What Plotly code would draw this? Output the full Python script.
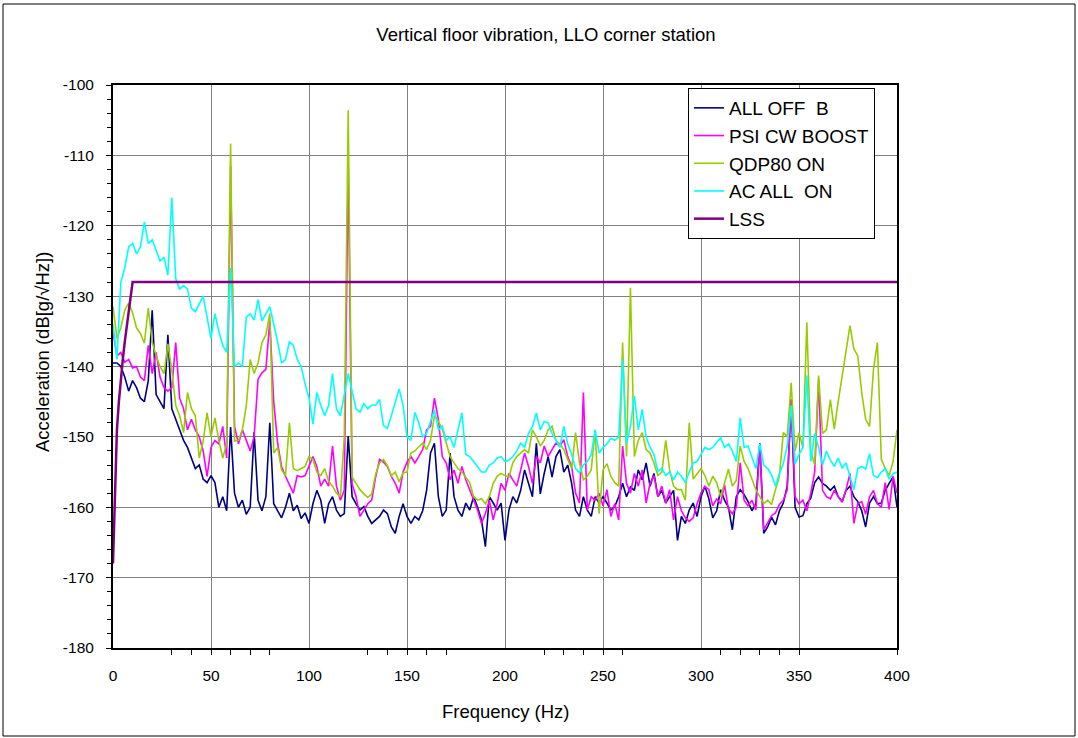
import plotly.graph_objects as go

# Frequency grid (Hz) shared by the measured spectra
freq = list(range(0, 401, 2))

all_off_b = [
    -139.5, -139.5, -140, -141.5, -143.5, -142, -143, -144.5, -145, -142,
    -132, -144, -145, -146, -135.5, -146, -147.5, -149, -150.5, -151.5,
    -153, -154.5, -154, -156, -156.5, -155.5, -156.5, -160, -158.5, -160.5,
    -148.6, -158, -160, -159, -161, -160, -149.3, -159, -160.5, -158.5,
    -148, -159.5, -160.5, -161.5, -160, -158, -160.5, -159.7, -161.6, -160.8,
    -162.3, -159.5, -157.6, -159, -162.3, -159.5, -158.5, -160.4, -161.3, -160.9,
    -149.9, -158.5, -159.5, -160.4, -159.9, -161.3, -162.3, -161.8, -161.3, -160.4,
    -160.9, -162.8, -163.7, -161.3, -159.5, -161.3, -162.3, -161.3, -161.8, -160.5,
    -157.6, -152.3, -150.9, -158.5, -161.3, -160.4, -152.3, -158.5, -160.4, -161.3,
    -159.4, -160.4, -158.5, -160, -161.8, -165.6, -158.5, -159.4, -160.4, -159.4,
    -164.7, -160.4, -158.5, -159.4, -157.6, -154.7, -156.6, -158.5, -150.9, -158.1,
    -155.2, -152.8, -155.7, -152.8, -151.8, -155, -154, -156.6, -160.4, -161.3,
    -158.5, -160.4, -161.3, -158.5, -159.4, -158.5, -159.4, -160.4, -159.9, -158.5,
    -156.6, -158.5, -157.1, -157.6, -154.7, -156.1, -153.7, -157, -155.2, -158.5,
    -157.6, -159.4, -158.5, -157.6, -164.7, -161.3, -162.3, -160.4, -159.4, -161.3,
    -158.5, -157, -158.8, -161.5, -160.5, -157.5, -159, -160, -163.2, -158.5,
    -157.5, -158.2, -159.2, -160.5, -159.5, -150.9, -163.7, -162.8, -161.4, -162.5,
    -160.5, -159.4, -157, -144.7, -160, -161.4, -161.2, -159.5, -158.7, -156.5,
    -155.7, -156.6, -157, -157.6, -157, -158.5, -159.2, -157.6, -157, -158.5,
    -159.2, -160.5, -162.8, -159.4, -158.5, -159.5, -159.4, -157.6, -156.6, -155.7,
    -160,
]

psi_cw_boost = [
    -135, -138.5, -138, -139.4, -139, -140.2, -140, -141.5, -142, -137,
    -141, -138, -141.5, -143, -143.5, -143, -136.6, -144.5, -146, -149,
    -147.5, -149, -150, -152, -155.6, -151.5, -150.5, -151, -148.5, -153,
    -111.6, -148.5, -151, -149, -150.5, -152, -150, -141.8, -140.9, -140.4,
    -133.5, -145, -150.9, -154.2, -155.6, -156.8, -158, -155.5, -155.7, -155.5,
    -154.2, -152.8, -154.2, -157, -156, -157, -151.3, -157, -159, -157.6,
    -111, -156.7, -158.5, -161.3, -160.4, -159.5, -159, -155.7, -153.2, -153.6,
    -154.2, -155.6, -156.6, -158, -155, -153.6, -152.8, -153.7, -152.8, -151.8,
    -149, -148.5, -144.5, -147.5, -152.8, -153.7, -156.1, -154.7, -156.6, -154.2,
    -156.1, -157.6, -159, -160.4, -162.3, -160.9, -159, -161.8, -159.5, -156.6,
    -157.6, -155.2, -156.1, -157, -154.7, -152.3, -154.2, -156.6, -152.8, -153.7,
    -151.3, -152.8, -151.8, -150.9, -151.3, -150.4, -152.8, -154.2, -158, -159.4,
    -143.7, -160.4, -158.5, -159, -158, -159.8, -157.5, -161.3, -159.5, -161.8,
    -151.3, -156.6, -158, -155.2, -157, -154.7, -159.4, -156.6, -155.5, -158.5,
    -157, -159.4, -157.5, -161.8, -158.5, -160.5, -161.5, -162, -161.5, -159.5,
    -158, -157, -157.5, -159.8, -158.8, -159.5, -156.8, -160.3, -160.9, -160,
    -153.7, -159, -159.8, -159, -160.4, -151.3, -163.2, -162.2, -161.2, -160.8,
    -159.6, -159, -157.5, -144.7, -158.5, -159.5, -159, -160.5, -158, -155,
    -141.8, -157.6, -158.5, -158.8, -157.6, -158.5, -159.3, -157.5, -155.2, -162.3,
    -159.5, -159.2, -161, -158.5, -157.6, -159.5, -160, -156.5, -160.3, -155.6,
    -158,
]

qdp80_on = [
    -131.5, -136, -134.5, -132, -131, -132.4, -134.5, -135.3, -136.7, -131.7,
    -136.5, -138.5, -140, -141, -136.8, -140.5, -145.5, -147, -149.4, -143.7,
    -146, -147, -153, -150.6, -146.6, -150, -147.3, -150.5, -153, -151,
    -108.3, -150.6, -150.5, -149, -145.6, -139, -141, -139.5, -136.6, -135.5,
    -132.5, -152.3, -151.5, -154.7, -155.5, -148, -154.5, -154.8, -154.5, -154.2,
    -152.8, -153.2, -155, -155.5, -154.5, -156.3, -157, -158, -158.5, -150,
    -103.6, -155.7, -156.6, -157.5, -158.1, -158.6, -158.1, -155.3, -153.7, -153.2,
    -154.1, -155.5, -155, -156.4, -155.1, -155, -152.3, -152, -151.4, -150.9,
    -151.8, -150.5, -147, -147.8, -148.9, -150.9, -152.8, -153.7, -154.5, -155,
    -155.8, -156.5, -158.5, -159, -158.8, -159.5, -158.5, -156.6, -155.6, -155.2,
    -155.5, -155.7, -153.7, -152.8, -152.3, -151.8, -152.3, -149, -150, -151.3,
    -150.5, -149, -148.5, -150.5, -151, -151.8, -153.2, -154.5, -149.4, -153.7,
    -156.1, -155.6, -154.7, -149, -160.9, -154.7, -153.8, -155.6, -156.5, -157,
    -136.6, -152.8, -128.8, -152.8, -150.5, -149.4, -151.8, -152.3, -153.7, -155.5,
    -155, -150.5, -154.7, -157, -157.5, -157.5, -159, -148, -156, -155.2,
    -154.5, -155.5, -157, -155.6, -156.5, -158.5, -156.5, -154.6, -157, -156.2,
    -151.3, -153.5, -154.5, -156, -157.5, -158.5, -159.5, -159, -159.6, -157.5,
    -155.6, -149.4, -150, -142.3, -152, -149.4, -151.5, -133.7, -152, -154,
    -141.3, -149.5, -149, -144.7, -148.9, -145, -141.3, -137.5, -134.2, -137.5,
    -138.5, -143.7, -147.5, -148.5, -140.4, -136.6, -153.2, -154.5, -155.5, -153.5,
    -149,
]

ac_all_on = [
    -134, -139, -128, -126, -123, -122.5, -124, -123, -119.5, -122.5,
    -122, -123.5, -125, -124.5, -127, -116, -127.5, -129, -128.5, -129,
    -131.7, -132.2, -131, -130, -133, -136, -132.5, -135, -137, -138,
    -126, -140, -139.5, -140, -133, -132.5, -133.4, -130.5, -133.5, -132.5,
    -131.5, -134, -136.5, -139.5, -139, -136.5, -137, -139, -140, -142.5,
    -144.5, -148.2, -143.7, -145.5, -147, -145.5, -141, -146, -147, -144,
    -141, -143.5, -146, -146.5, -145.3, -146, -145.5, -145.5, -144.7, -148.4,
    -148.8, -147, -145, -143.2, -145.5, -150, -150.5, -146.5, -148, -150,
    -149.5, -148, -146.2, -149, -148.5, -150.5, -150, -151.5, -149, -146.6,
    -152.5, -152.8, -153.5, -154.2, -155, -155, -154, -153.7, -153, -152.8,
    -153.5, -153.3, -152.8, -152, -150.9, -151.5, -149.5, -148.5, -146.6, -149,
    -147.8, -148, -149.5, -150.5, -151.5, -148.5, -151, -152.5, -154.5, -155.1,
    -154, -153.5, -152.5, -149, -152.3, -151.5, -151, -150.2, -150.5, -150,
    -139, -151, -148.5, -144.2, -149, -146.1, -150, -151.5, -152.5, -154.9,
    -154.5, -155.5, -155, -156.1, -155, -155.6, -156.5, -155, -153.7, -153.5,
    -152.5, -151.5, -151.8, -151.5, -150.8, -150.1, -151.5, -151, -152, -153.5,
    -147.3, -151.5, -151.3, -152.8, -154.5, -151, -154, -154.5, -155.4, -157,
    -155.2, -153.8, -151.3, -145.5, -153.8, -152.5, -151.5, -141.3, -153.5, -149.5,
    -151.5, -154, -152, -153.3, -154.2, -153, -154.4, -153.7, -155.7, -157.5,
    -154.5, -154.2, -154.6, -152.4, -155.5, -155.8, -155, -154.5, -156, -155.2,
    -155,
]

lss_freq = [0, 1, 2, 3, 4, 5, 6, 7, 8, 9, 10, 400]
lss_db = [-168, -157, -149, -145, -141.5, -139, -136.5, -134.2, -132, -130, -128, -128]

x_tick_vals = [0, 50, 100, 150, 200, 250, 300, 350, 400]
x_tick_text = ["0", "50", "100", "150", "200", "250", "300", "350", "400"]
y_tick_vals = [-180, -170, -160, -150, -140, -130, -120, -110, -100]
y_tick_text = ["-180", "-170", "-160", "-150", "-140", "-130", "-120", "-110", "-100"]
x_minor_ticks = [30, 40, 50, 60, 70, 80, 130, 140, 150, 160, 170,
                 220, 230, 240, 250, 260, 310, 320, 330, 340, 350, 400]

series = [
    ("ALL OFF\u00a0\u00a0B", all_off_b, "#000080"),
    ("PSI CW BOOST", psi_cw_boost, "#FF00FF"),
    ("QDP80 ON", qdp80_on, "#99CC00"),
    ("AC ALL\u00a0\u00a0ON", ac_all_on, "#00FFFF"),
]

FONT = "Arial, 'Liberation Sans', sans-serif"

fig = go.Figure()
for i, (name, vals, color) in enumerate(series):
    fig.add_trace(go.Scatter(
        x=freq, y=vals, mode="lines", name=name, legendgroup=f"g{i}",
        line=dict(color=color, width=1.6),
    ))
fig.add_trace(go.Scatter(
    x=lss_freq, y=lss_db, mode="lines", name="LSS", legendgroup="g4",
    line=dict(color="#800080", width=2.5),
))

# pixel -> paper helpers for the fixed plot area
L, R, T, B = 113, 897, 85, 648
W, H = 1078, 738
def px(x):
    return (x - L) / (R - L)
def py(y):
    return (B - y) / (B - T)

fig.update_layout(
    width=W, height=H,
    margin=dict(l=L, r=W - R, t=T, b=H - B),
    paper_bgcolor="white", plot_bgcolor="white",
    font=dict(family=FONT, color="black", size=15),
    showlegend=True,
    legend=dict(
        x=px(688), y=py(88), xanchor="left", yanchor="top",
        bgcolor="white", bordercolor="black", borderwidth=1,
        font=dict(size=19, family=FONT), tracegroupgap=0,
        traceorder="grouped",
    ),
    title=dict(text="Vertical floor vibration, LLO corner station",
               x=px(546), xref="paper", xanchor="center",
               y=1 - 35 / H, yanchor="middle",
               font=dict(size=18.5, family=FONT)),
)

fig.update_xaxes(
    range=[0, 400], tickmode="array", tickvals=x_tick_vals, ticktext=x_tick_text,
    showgrid=True, gridcolor="#808080", gridwidth=1,
    showline=True, linecolor="black", linewidth=2, mirror=True,
    ticks="", zeroline=False, ticklabelstandoff=12,
    tickfont=dict(size=15.5, family=FONT),
    minor=dict(tickmode="array", tickvals=x_minor_ticks, ticks="outside",
               ticklen=5, tickcolor="black", showgrid=False),
)
fig.update_yaxes(
    range=[-180, -100], tickmode="array", tickvals=y_tick_vals, ticktext=y_tick_text,
    showgrid=True, gridcolor="#808080", gridwidth=1,
    showline=True, linecolor="black", linewidth=2, mirror=True,
    ticks="outside", ticklen=5, tickcolor="black", zeroline=False,
    ticklabelstandoff=9,
    tickfont=dict(size=15.5, family=FONT),
    minor=dict(dtick=2, ticks="outside", ticklen=4, tickcolor="black",
               showgrid=False),
)

fig.add_annotation(text="Frequency (Hz)", x=px(505), y=py(711), xref="paper",
                   yref="paper", showarrow=False, xanchor="center",
                   yanchor="middle", font=dict(size=18.5, family=FONT))
fig.add_annotation(text="Acceleration (dB[g/\u221aHz])", x=px(42), y=py(352),
                   xref="paper", yref="paper", showarrow=False, textangle=-90,
                   xanchor="center", yanchor="middle",
                   font=dict(size=18.5, family=FONT))

fig.add_shape(type="rect", xref="paper", yref="paper",
              x0=px(3), x1=px(1075), y0=py(4), y1=py(736),
              line=dict(color="black", width=1), fillcolor="rgba(0,0,0,0)",
              layer="below")

fig.write_html("out.html")
